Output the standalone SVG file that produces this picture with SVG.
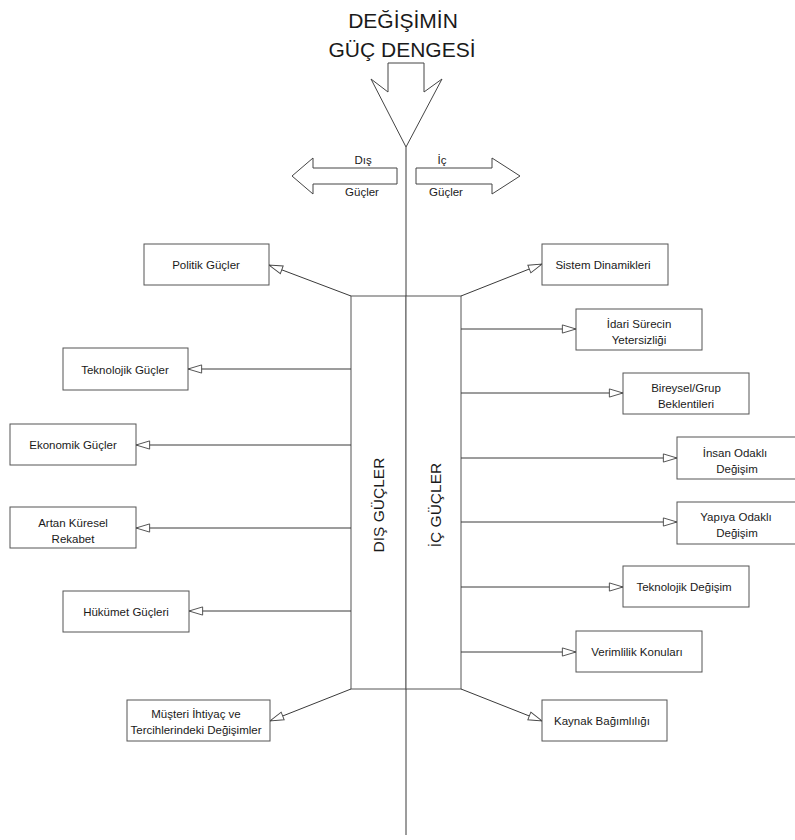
<svg xmlns="http://www.w3.org/2000/svg" width="795" height="840" viewBox="0 0 795 840">
  <style>
    .bg { fill: #ffffff; }
    .box { fill: #ffffff; stroke: #555555; stroke-width: 1; }
    .shape { fill: #ffffff; stroke: #444444; stroke-width: 1; }
    .line { fill: none; stroke: #3a3a3a; stroke-width: 1; }
    .conn { fill: none; stroke: #3a3a3a; stroke-width: 1; marker-end: url(#openTri); }
    text { font-family: "Liberation Sans", Arial, sans-serif; fill: #1a1a1a; }
    .lbl { font-size: 11.5px; text-anchor: middle; }
    .title { font-size: 21px; text-anchor: middle; }
    .side { font-size: 11.5px; text-anchor: middle; }
    .vert { font-size: 15.5px; text-anchor: middle; }
  </style>
  <defs>
    <marker id="openTri" markerUnits="userSpaceOnUse" markerWidth="17" markerHeight="10" refX="15" refY="4.5" orient="auto" viewBox="-1 -1 17 11">
      <path d="M0,0 L15,4.5 L0,9 Z" fill="#ffffff" stroke="#444444" stroke-width="1"/>
    </marker>
  </defs>

  <rect class="bg" x="0" y="0" width="795" height="840"/>

  <!-- title -->
  <g id="title">
    <text class="title" x="403" y="28">DEĞİŞİMİN</text>
    <text class="title" x="402" y="57">GÜÇ DENGESİ</text>
  </g>

  <!-- downward arrow and central axis -->
  <g id="balance-arrow">
    <polygon class="shape" points="388,63 424,63 424,92 442,79 406,147 371,79 388,92"/>
    <line class="line" x1="406" y1="147" x2="406" y2="835"/>
  </g>

  <!-- side arrows -->
  <g id="arrow-dis">
    <polygon class="shape" points="397,168 313,168 313,158 292,176 313,194 313,184 397,184"/>
    <text class="side" x="363" y="164">Dış</text>
    <text class="side" x="362" y="196">Güçler</text>
  </g>
  <g id="arrow-ic">
    <polygon class="shape" points="416,168 492,168 492,158 520,176 492,194 492,184 416,184"/>
    <text class="side" x="442" y="164">İç</text>
    <text class="side" x="446" y="196">Güçler</text>
  </g>

  <!-- central columns -->
  <g id="dis-gucler">
    <rect class="box" x="351" y="296" width="55" height="393"/>
    <text class="vert" transform="translate(384,505) rotate(-90)">DIŞ GÜÇLER</text>
  </g>
  <g id="ic-gucler">
    <rect class="box" x="406" y="296" width="55" height="393"/>
    <text class="vert" transform="translate(441,505) rotate(-90)">İÇ GÜÇLER</text>
  </g>

  <!-- connectors -->
  <g id="connectors">
    <line class="conn" x1="351" y1="296" x2="269" y2="265"/>
    <line class="conn" x1="351" y1="369" x2="188" y2="369"/>
    <line class="conn" x1="351" y1="445" x2="136" y2="445"/>
    <line class="conn" x1="351" y1="528" x2="136" y2="528"/>
    <line class="conn" x1="351" y1="611" x2="189" y2="611"/>
    <line class="conn" x1="351" y1="689" x2="270" y2="721"/>
    <line class="conn" x1="461" y1="296" x2="542" y2="264"/>
    <line class="conn" x1="461" y1="329" x2="576" y2="329"/>
    <line class="conn" x1="461" y1="393" x2="623" y2="393"/>
    <line class="conn" x1="461" y1="458" x2="677" y2="458"/>
    <line class="conn" x1="461" y1="522" x2="677" y2="522"/>
    <line class="conn" x1="461" y1="587" x2="623" y2="587"/>
    <line class="conn" x1="461" y1="652" x2="576" y2="652"/>
    <line class="conn" x1="461" y1="689" x2="542" y2="721"/>
  </g>

  <!-- external forces -->
  <g id="politik-gucler">
    <rect class="box" x="144" y="244" width="125" height="41"/>
    <text class="lbl" x="206" y="269">Politik Güçler</text>
  </g>
  <g id="teknolojik-gucler">
    <rect class="box" x="63" y="348" width="125" height="42"/>
    <text class="lbl" x="125" y="374">Teknolojik Güçler</text>
  </g>
  <g id="ekonomik-gucler">
    <rect class="box" x="10" y="424" width="126" height="41"/>
    <text class="lbl" x="73" y="449">Ekonomik Güçler</text>
  </g>
  <g id="artan-kuresel-rekabet">
    <rect class="box" x="10" y="507" width="126" height="41"/>
    <text class="lbl" x="73" y="527">Artan Küresel</text>
    <text class="lbl" x="73" y="543">Rekabet</text>
  </g>
  <g id="hukumet-gucleri">
    <rect class="box" x="63" y="591" width="126" height="41"/>
    <text class="lbl" x="126" y="616">Hükümet Güçleri</text>
  </g>
  <g id="musteri-ihtiyac">
    <rect class="box" x="127" y="700" width="143" height="41"/>
    <text class="lbl" x="196" y="718">Müşteri İhtiyaç ve</text>
    <text class="lbl" x="196" y="734">Tercihlerindeki Değişimler</text>
  </g>

  <!-- internal forces -->
  <g id="sistem-dinamikleri">
    <rect class="box" x="542" y="244" width="126" height="41"/>
    <text class="lbl" x="603" y="269">Sistem Dinamikleri</text>
  </g>
  <g id="idari-surecin">
    <rect class="box" x="576" y="309" width="126" height="41"/>
    <text class="lbl" x="639" y="328">İdari Sürecin</text>
    <text class="lbl" x="639" y="344">Yetersizliği</text>
  </g>
  <g id="bireysel-grup">
    <rect class="box" x="623" y="373" width="126" height="41"/>
    <text class="lbl" x="686" y="392">Bireysel/Grup</text>
    <text class="lbl" x="686" y="408">Beklentileri</text>
  </g>
  <g id="insan-odakli">
    <rect class="box" x="677" y="437" width="126" height="42"/>
    <text class="lbl" x="735" y="457">İnsan Odaklı</text>
    <text class="lbl" x="737" y="473">Değişim</text>
  </g>
  <g id="yapiya-odakli">
    <rect class="box" x="677" y="502" width="126" height="42"/>
    <text class="lbl" x="736" y="521">Yapıya Odaklı</text>
    <text class="lbl" x="737" y="537">Değişim</text>
  </g>
  <g id="teknolojik-degisim">
    <rect class="box" x="623" y="566" width="126" height="41"/>
    <text class="lbl" x="684" y="591">Teknolojik Değişim</text>
  </g>
  <g id="verimlilik-konulari">
    <rect class="box" x="576" y="631" width="126" height="41"/>
    <text class="lbl" x="637" y="656">Verimlilik Konuları</text>
  </g>
  <g id="kaynak-bagimliligi">
    <rect class="box" x="542" y="700" width="125" height="41"/>
    <text class="lbl" x="602" y="725">Kaynak Bağımlılığı</text>
  </g>
</svg>
